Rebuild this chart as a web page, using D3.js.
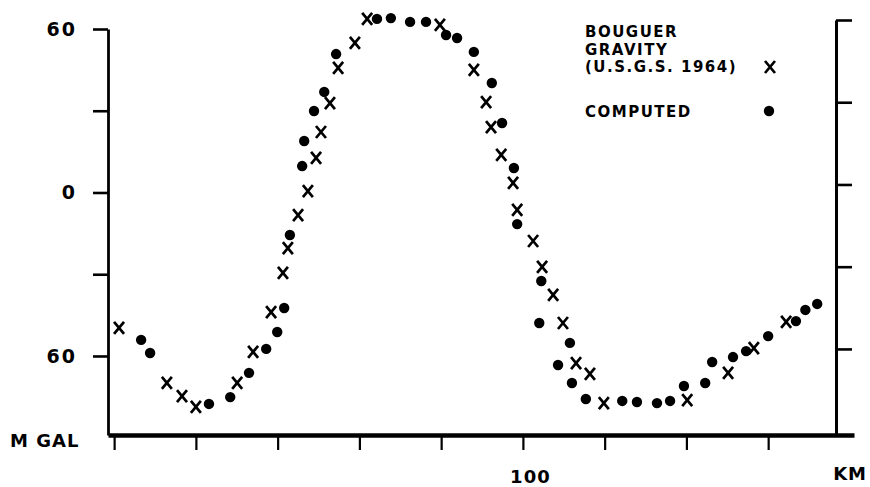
<!DOCTYPE html>
<html>
<head>
<meta charset="utf-8">
<script src="https://cdn.jsdelivr.net/npm/d3@7"></script>
<style>
  body { margin: 0; background: #fff; }
  text { font-family: "DejaVu Sans", sans-serif; font-weight: bold; fill: #000; }
</style>
</head>
<body>
<div id="graphic"></div>
<script>
// Bouguer gravity (U.S.G.S. 1964), drawn as x marks
const bouguerKm   = [1.2, 12.9, 16.6, 20.0, 30.1, 34.0, 38.4, 41.3, 42.5, 45.0, 47.4, 49.4, 50.6, 52.8, 54.8, 58.9, 61.9,
                     79.7, 88.0, 91.0, 92.2, 94.7, 97.6, 98.6, 102.5, 104.7, 107.4, 109.8, 113.0, 116.4, 119.8,
                     140.2, 150.2, 156.5, 164.4];
const bouguerMgal = [-49.7, -69.9, -74.7, -78.7, -69.9, -58.5, -43.9, -29.5, -20.4, -8.3, 0.5, 12.7, 22.2, 32.8, 45.7, 54.9, 63.7,
                     61.5, 45.0, 33.2, 24.0, 13.8, 3.5, -6.4, -17.8, -27.3, -37.6, -47.9, -62.6, -66.6, -77.3,
                     -76.2, -66.2, -57.1, -47.5];

// computed anomaly, drawn as dots
const computedKm   = [6.6, 8.8, 23.2, 28.4, 33.0, 37.2, 39.9, 41.6, 43.0, 46.0, 46.5, 48.9, 51.4, 54.3,
                      64.3, 67.7, 72.4, 76.3, 81.2, 83.9, 88.0, 92.4, 94.9, 97.8, 98.6, 104.5, 104.0, 111.5, 108.6,
                      112.0, 115.4, 124.3, 127.9, 132.8, 136.0, 139.4, 144.6, 146.3, 151.4, 154.6, 160.0, 166.8, 169.1, 172.0];
const computedMgal = [-54.1, -58.9, -77.6, -75.1, -66.2, -57.4, -51.2, -42.4, -15.6, 9.7, 18.9, 29.9, 36.9, 50.8,
                      63.7, 64.0, 62.6, 62.6, 57.8, 56.7, 51.6, 40.2, 25.5, 9.0, -11.6, -32.5, -47.9, -55.2, -63.3,
                      -69.9, -75.8, -76.5, -76.9, -77.3, -76.5, -71.0, -69.9, -62.2, -60.4, -58.2, -52.7, -47.2, -43.1, -40.9];

const yTicks = [-60, -30, 0, 30, 60];
const yTickLabels = {"60": "60", "0": "0", "-60": "60"};
const xTicks = [0, 20, 40, 60, 80, 100, 120, 140, 160];
const xTickLabels = {"100": "100"};
const legendLines = ["BOUGUER", "GRAVITY", "(U.S.G.S. 1964)"];

const width = 870;
const height = 487;

const svg = d3.select("#graphic")
    .append("svg")
    .attr("width", width)
    .attr("height", height);

const x = d3.scaleLinear().domain([-1.5, 181]).range([108, 854]);
const y = d3.scaleLinear().domain([-89, 60]).range([435, 29]);
// the right hand scale sits a little higher on the original sheet
const yRight = d3.scaleLinear().domain([-91.4, 60]).range([435, 20]);

// left axis
const leftAxis = svg.append("g")
    .attr("transform", "translate(108,0)")
    .call(d3.axisLeft(y).tickValues(yTicks).tickSize(15).tickSizeOuter(0).tickPadding(16)
        .tickFormat(d => yTickLabels[d] || ""));
leftAxis.select(".domain").attr("stroke-width", 2.8);
leftAxis.selectAll(".tick line").attr("stroke-width", 2.6);
leftAxis.selectAll(".tick text")
    .style("font-size", "19px")
    .style("letter-spacing", "2px")
    .attr("fill", "#000");

// right axis, ticks only
const rightAxis = svg.append("g")
    .attr("transform", "translate(836,0)")
    .call(d3.axisRight(yRight).tickValues(yTicks).tickSize(16).tickSizeOuter(0).tickFormat(""));
rightAxis.select(".domain").attr("stroke-width", 3);
rightAxis.selectAll(".tick line").attr("stroke-width", 2.6);

// bottom axis
const bottomAxis = svg.append("g")
    .attr("transform", "translate(0,435)")
    .call(d3.axisBottom(x).tickValues(xTicks).tickSize(15).tickSizeOuter(0).tickPadding(20)
        .tickFormat(d => xTickLabels[d] || ""));
bottomAxis.select(".domain").attr("stroke-width", 4.5);
bottomAxis.selectAll(".tick line").attr("stroke-width", 2.2);
bottomAxis.selectAll(".tick text")
    .style("font-size", "18px")
    .style("letter-spacing", "1px")
    .attr("dx", 7)
    .attr("fill", "#000");

svg.append("text")
    .attr("x", 10)
    .attr("y", 447)
    .style("font-size", "18px")
    .style("letter-spacing", "1px")
    .text("M GAL");

svg.append("text")
    .attr("x", 867)
    .attr("y", 480)
    .attr("text-anchor", "end")
    .style("font-size", "18px")
    .style("letter-spacing", "1px")
    .text("KM");

// x mark symbol
function cross(g, cx, cy) {
    g.append("path")
        .attr("d", `M${cx - 5},${cy - 6}L${cx + 5},${cy + 6}M${cx + 5},${cy - 6}L${cx - 5},${cy + 6}`)
        .attr("fill", "none")
        .attr("stroke", "#000")
        .attr("stroke-width", 2.7);
}

const bouguer = bouguerKm.map((d, i) => ({km: d, mgal: bouguerMgal[i]}));
const computed = computedKm.map((d, i) => ({km: d, mgal: computedMgal[i]}));

const crossGroup = svg.append("g").attr("class", "bouguer");
bouguer.forEach(d => cross(crossGroup, x(d.km), y(d.mgal)));

svg.append("g")
    .attr("class", "computed")
    .selectAll("circle")
    .data(computed)
    .enter().append("circle")
        .attr("cx", d => x(d.km))
        .attr("cy", d => y(d.mgal))
        .attr("r", 5.2)
        .attr("fill", "#000");

// legend
const legend = svg.append("g").attr("class", "legend");
legend.selectAll("text.line")
    .data(legendLines)
    .enter().append("text")
        .attr("class", "line")
        .attr("x", 585)
        .attr("y", (d, i) => 37 + i * 17.5)
        .style("font-size", "15px")
        .style("letter-spacing", "1.5px")
        .text(d => d);
cross(legend, 770, 67);

legend.append("text")
    .attr("x", 585)
    .attr("y", 117)
    .style("font-size", "15px")
    .style("letter-spacing", "1.5px")
    .text("COMPUTED");
legend.append("circle")
    .attr("cx", 769)
    .attr("cy", 111)
    .attr("r", 5.2)
    .attr("fill", "#000");
</script>
</body>
</html>
